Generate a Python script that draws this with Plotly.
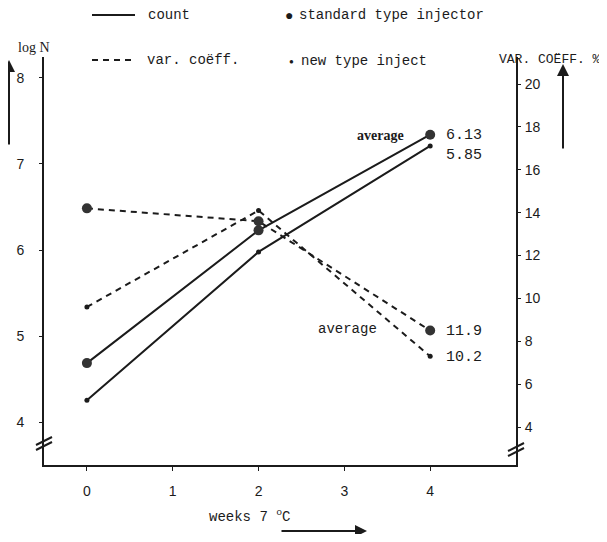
import plotly.graph_objects as go

# ---- data ----
weeks = [0, 2, 4]
count_std = [4.69, 6.23, 7.34]
count_new = [4.26, 5.98, 7.21]
var_std = [14.2, 13.6, 8.5]
var_new = [9.6, 14.1, 7.3]
x_ticks = [0, 1, 2, 3, 4]
left_ticks = [4, 5, 6, 7, 8]
right_ticks = [4, 6, 8, 10, 12, 14, 16, 18, 20]

# page body margin offsets the figure by 8px; the figure covers reference px 8..599 / 8..534
OFF = 8
W, H = 607 - 2 * OFF, 542 - 2 * OFF
L, R, T, B = 44, 516, 57, 465          # plot area, reference pixel coords
INK = "#1b1b1b"
MONO = "Liberation Mono"
SANS = "Liberation Sans"


def px(x):
    return (x - L) / (R - L)


def py(y):
    return (B - y) / (B - T)


fig = go.Figure()
fig.add_trace(go.Scatter(x=weeks, y=count_std, mode="lines+markers",
                         line=dict(color=INK, width=2),
                         marker=dict(size=10, color="#333"), yaxis="y"))
fig.add_trace(go.Scatter(x=weeks, y=count_new, mode="lines+markers",
                         line=dict(color=INK, width=2),
                         marker=dict(size=5, color=INK), yaxis="y"))
fig.add_trace(go.Scatter(x=weeks, y=var_std, mode="lines+markers",
                         line=dict(color=INK, width=2, dash="6px,5px"),
                         marker=dict(size=10, color="#333"), yaxis="y2"))
fig.add_trace(go.Scatter(x=weeks, y=var_new, mode="lines+markers",
                         line=dict(color=INK, width=2, dash="6px,5px"),
                         marker=dict(size=5, color=INK), yaxis="y2"))

tickfont = dict(family=SANS, size=14, color=INK)
fig.update_layout(
    width=W, height=H,
    margin=dict(l=L - OFF, r=(607 - OFF) - R, t=T - OFF, b=(542 - OFF) - B, pad=0,
                autoexpand=False),
    paper_bgcolor="white", plot_bgcolor="white",
    showlegend=False,
    xaxis=dict(range=[-0.5, 5.0], tickvals=x_ticks, showgrid=False, zeroline=False,
               showline=True, linecolor=INK, linewidth=2, ticks="outside",
               ticklen=4, tickcolor=INK, tickfont=tickfont, ticklabelstandoff=8,
               automargin=False),
    yaxis=dict(range=[3.508, 8.241], tickvals=left_ticks, showgrid=False, zeroline=False,
               showline=True, linecolor=INK, linewidth=2, ticks="outside",
               ticklen=3, tickcolor=INK, tickfont=tickfont, ticklabelstandoff=12,
               automargin=False),
    yaxis2=dict(range=[2.23, 21.26], tickvals=right_ticks, overlaying="y", side="right",
                showgrid=False, zeroline=False, showline=True, linecolor=INK, linewidth=2,
                ticks="outside", ticklen=3, tickcolor=INK, tickfont=tickfont,
                ticklabelstandoff=1, automargin=False),
)

shapes = []
# axis break marks
for dy in (0, 5):
    shapes.append(dict(type="line", xref="paper", yref="paper",
                       x0=px(36), y0=py(445 + dy), x1=px(52), y1=py(437 + dy),
                       line=dict(color=INK, width=2)))
    shapes.append(dict(type="line", xref="paper", yref="paper",
                       x0=px(508), y0=py(451 + dy), x1=px(524), y1=py(443 + dy),
                       line=dict(color=INK, width=2)))
# legend line samples
shapes.append(dict(type="line", xref="paper", yref="paper",
                   x0=px(92), y0=py(15), x1=px(135), y1=py(15),
                   line=dict(color=INK, width=2)))
shapes.append(dict(type="line", xref="paper", yref="paper",
                   x0=px(92), y0=py(60), x1=px(135), y1=py(60),
                   line=dict(color=INK, width=2, dash="6px,5px")))
fig.update_layout(shapes=shapes)


def txt(x, y, s, size=14, family=MONO, xanchor="left", bold=False):
    if bold:
        s = "<b>" + s + "</b>"
    fig.add_annotation(x=px(x), y=py(y), xref="paper", yref="paper", text=s,
                       showarrow=False, xanchor=xanchor, yanchor="middle",
                       font=dict(family=family, size=size, color=INK))


# legend texts
txt(146, 15, "count", 14)
txt(145, 60, "var. coëff.", 14)
txt(283, 16, "●", 14)
txt(297, 15, "standard type injector", 14)
txt(287, 62, "●", 8)
txt(299, 61, "new type inject", 14)

# axis titles
txt(16, 47, "log N", 14, family="Liberation Serif")
txt(497, 60, "VAR. COËFF. %", 13)
txt(207, 516, "weeks 7 <sup>o</sup>C", 14)

# value labels
txt(355, 135, "average", 14, family="Liberation Serif", bold=True)
txt(444, 135, "6.13", 15)
txt(444, 155, "5.85", 15)
txt(316, 329, "average", 14)
txt(444, 331, "11.9", 15)
txt(444, 357, "10.2", 15)


# arrows (head at x1,y1; tail offset in pixels)
def arrow(x0, y0, x1, y1):
    fig.add_annotation(x=px(x1), y=py(y1), xref="paper", yref="paper",
                       ax=x0 - x1, ay=y0 - y1, axref="pixel", ayref="pixel",
                       text="", showarrow=True, arrowhead=2, arrowsize=1.2,
                       arrowwidth=2, arrowcolor=INK)


arrow(9, 146, 9, 60)
arrow(563, 150, 563, 64)
arrow(280, 531, 367, 531)

fig.write_html("out.html")
